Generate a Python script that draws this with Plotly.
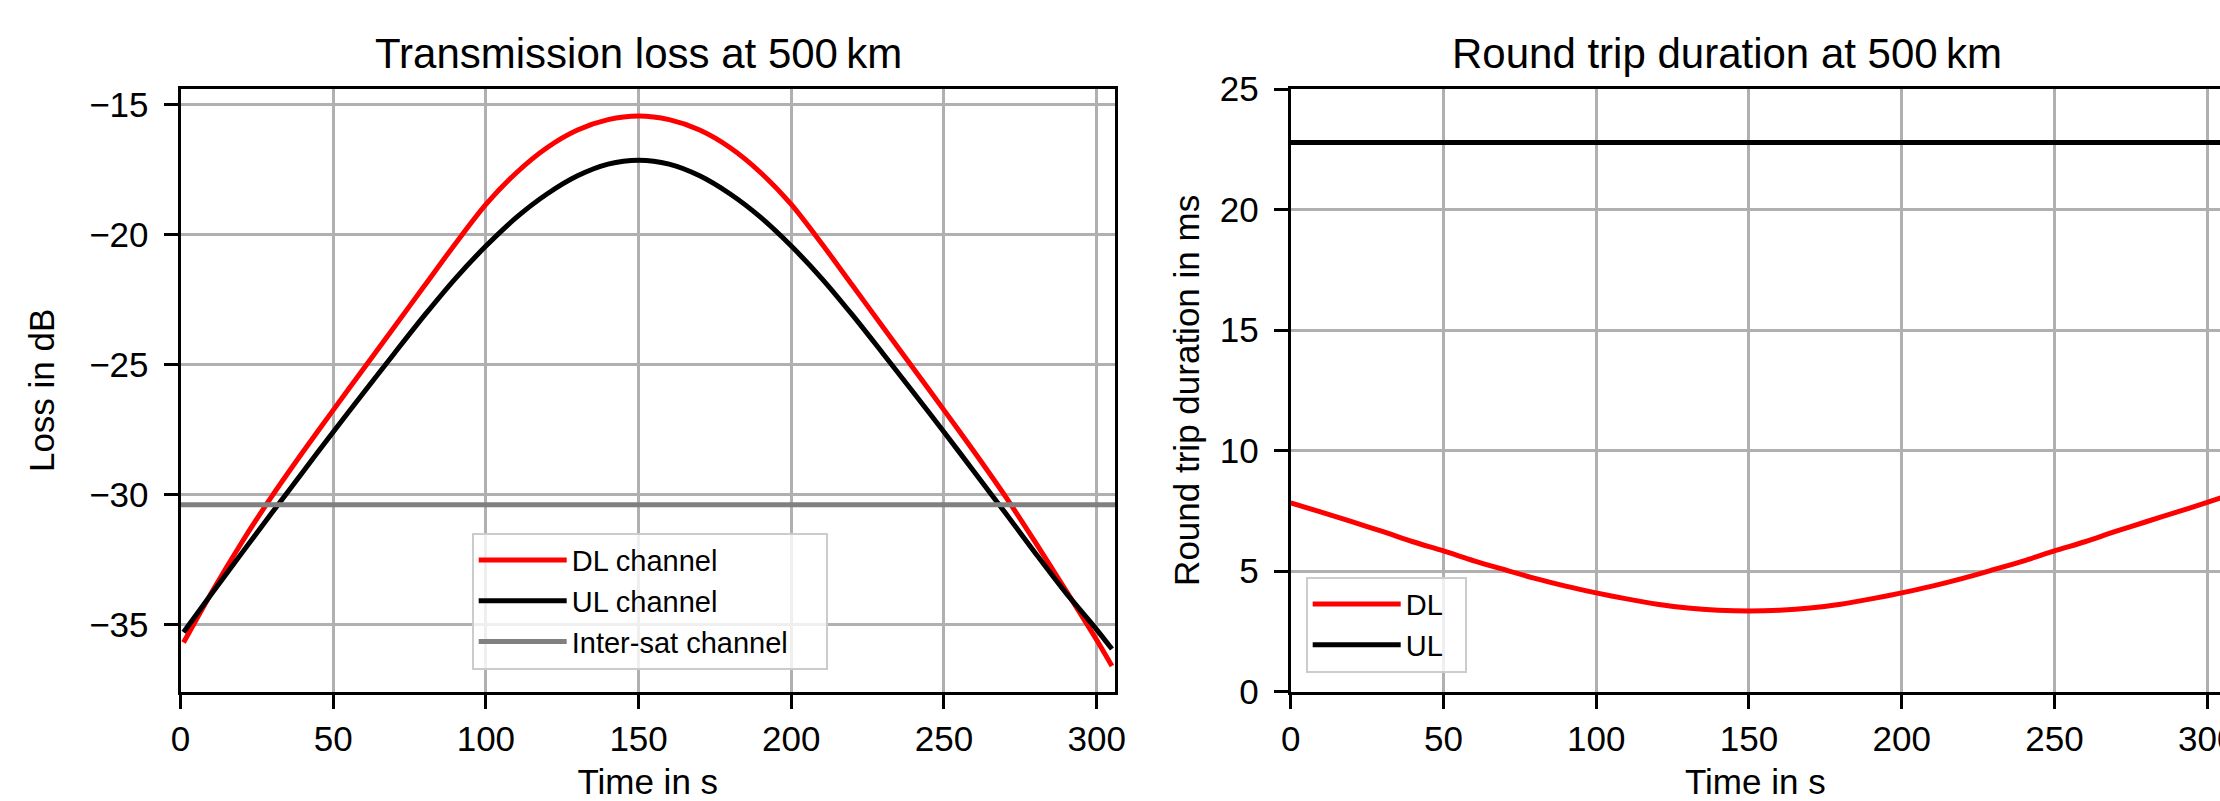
import plotly.graph_objects as go

# ---------------- data ----------------
t_loss = [1, 10, 20, 30, 40, 50, 60, 70, 80, 90, 100, 110, 120, 130, 140, 150,
          160, 170, 180, 190, 200, 210, 220, 230, 240, 250, 260, 270, 280, 290, 300, 305]
dl_loss = [-35.7, -33.81, -31.86, -30.06, -28.38, -26.76, -25.16, -23.56, -21.96, -20.36, -18.85,
           -17.63, -16.67, -15.99, -15.59, -15.45, -15.59, -15.99, -16.67, -17.63, -18.85,
           -20.36, -21.96, -23.56, -25.16, -26.76, -28.38, -30.06, -31.86, -33.71, -35.6, -36.6]
ul_loss = [-35.3, -33.85, -32.27, -30.7, -29.15, -27.6, -26.08, -24.58, -23.1, -21.7, -20.45,
           -19.35, -18.45, -17.75, -17.3, -17.15, -17.3, -17.75, -18.45, -19.35, -20.45,
           -21.7, -23.1, -24.58, -26.08, -27.6, -29.15, -30.7, -32.27, -33.8, -35.2, -35.95]
t_isl = [0, 306]
isl_loss = [-30.4, -30.4]

t_rtt = [0, 10, 20, 30, 40, 50, 60, 70, 80, 90, 100, 110, 120, 130, 140, 150,
         160, 170, 180, 190, 200, 210, 220, 230, 240, 250, 260, 270, 280, 290, 300, 306]
dl_rtt = [7.83, 7.45, 7.05, 6.65, 6.22, 5.84, 5.43, 5.06, 4.70, 4.38, 4.10, 3.85, 3.63,
          3.47, 3.38, 3.35, 3.38, 3.47, 3.63, 3.85, 4.10, 4.38, 4.70, 5.06, 5.43, 5.84,
          6.22, 6.65, 7.05, 7.45, 7.85, 8.10]
t_ul_rtt = [0, 306]
ul_rtt = [22.78, 22.78]

x_ticks = [0, 50, 100, 150, 200, 250, 300]
loss_ticks = [-35, -30, -25, -20, -15]
rtt_ticks = [0, 5, 10, 15, 20, 25]

FONT = "Liberation Sans"
W, H = 2220, 801
PAD = "\u00a0"

fig = go.Figure()
fig.add_trace(go.Scatter(x=t_loss, y=dl_loss, mode="lines", name="DL channel",
                         line=dict(color="#ff0000", width=5, shape="spline", smoothing=0.8),
                         xaxis="x", yaxis="y", legend="legend"))
fig.add_trace(go.Scatter(x=t_loss, y=ul_loss, mode="lines", name="UL channel",
                         line=dict(color="#000000", width=5, shape="spline", smoothing=0.8),
                         xaxis="x", yaxis="y", legend="legend"))
fig.add_trace(go.Scatter(x=t_isl, y=isl_loss, mode="lines", name="Inter-sat channel" + PAD * 4,
                         line=dict(color="#808080", width=5),
                         xaxis="x", yaxis="y", legend="legend"))
fig.add_trace(go.Scatter(x=t_rtt, y=dl_rtt, mode="lines", name="DL" + PAD * 2,
                         line=dict(color="#ff0000", width=5, shape="spline", smoothing=0.8),
                         xaxis="x2", yaxis="y2", legend="legend2"))
fig.add_trace(go.Scatter(x=t_ul_rtt, y=ul_rtt, mode="lines", name="UL",
                         line=dict(color="#000000", width=5),
                         xaxis="x2", yaxis="y2", legend="legend2"))

axis_common = dict(
    showline=True, linecolor="black", linewidth=3, mirror=True,
    ticks="outside", ticklen=14, tickwidth=3, tickcolor="black",
    showgrid=True, gridcolor="#b0b0b0", gridwidth=3,
    zeroline=False, automargin=False, ticklabeloverflow="allow",
    tickfont=dict(family=FONT, size=35, color="black"),
)
title_font = dict(family=FONT, size=35, color="black")

ydom = [1 - 691.7 / H, 1 - 89 / H]

legend_common = dict(xanchor="left", yanchor="top",
                     bgcolor="rgba(255,255,255,0.8)", bordercolor="#cccccc", borderwidth=2,
                     font=dict(family=FONT, size=29, color="black"), tracegroupgap=0,
                     itemwidth=88)

fig.update_layout(
    width=W, height=H,
    margin=dict(l=0, r=0, t=0, b=0),
    paper_bgcolor="white", plot_bgcolor="white",
    font=dict(family=FONT, color="black"),
    showlegend=True,
    xaxis=dict(axis_common, domain=[180.5 / W, 1115 / W], range=[0, 306], anchor="y",
               tickvals=x_ticks,
               title=dict(text="Time in s", font=title_font, standoff=25)),
    yaxis=dict(axis_common, domain=ydom, range=[-37.59, -14.41], anchor="x",
               tickvals=loss_ticks, ticklabelstandoff=8,
               title=dict(text="Loss in dB", font=title_font, standoff=24)),
    xaxis2=dict(axis_common, domain=[1290.7 / W, 1.0], range=[0, 304.2], anchor="y2",
                tickvals=x_ticks,
                title=dict(text="Time in s", font=title_font, standoff=25)),
    yaxis2=dict(axis_common, domain=ydom, range=[0, 25], anchor="x2",
                tickvals=rtt_ticks, ticklabelstandoff=8,
                title=dict(text="Round trip duration in ms", font=title_font, standoff=10)),
    legend=dict(legend_common, x=471.7 / W, y=1 - 532.7 / H),
    legend2=dict(legend_common, x=1305.7 / W, y=1 - 576.7 / H),
    annotations=[
        dict(text="Transmission loss at 500\u2009km", xref="paper", yref="paper",
             x=638.5 / W, y=1 - 54 / H, xanchor="center", yanchor="middle",
             showarrow=False, font=dict(family=FONT, size=42, color="black")),
        dict(text="Round trip duration at 500\u2009km", xref="paper", yref="paper",
             x=1726.6 / W, y=1 - 54 / H, xanchor="center", yanchor="middle",
             showarrow=False, font=dict(family=FONT, size=42, color="black")),
    ],
)

fig.write_html("out.html")
